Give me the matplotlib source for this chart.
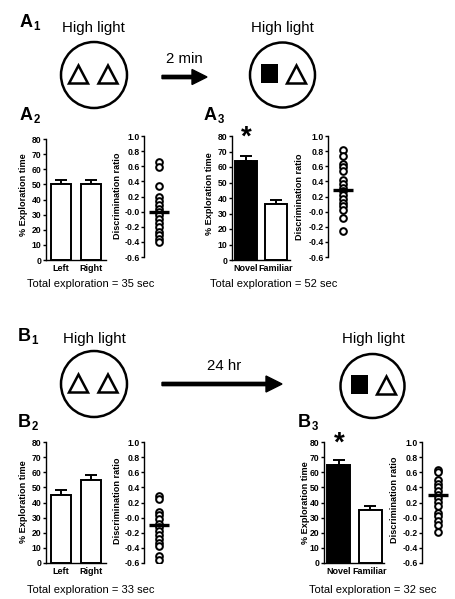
import matplotlib
matplotlib.use("Agg")
import matplotlib.pyplot as plt
from matplotlib import patches
import numpy as np

plt.rcParams['font.family'] = ['Liberation Sans', 'DejaVu Sans']

# ---------------- data ----------------
a2_labels = ['Left', 'Right']
a2_values = [50, 50]
a2_sem = [3, 3]
a2_colors = ['white', 'white']
a2_ratio = [0.65, 0.59, 0.34, 0.19, 0.14, 0.09, 0.04, 0.0, -0.05, -0.10,
            -0.15, -0.20, -0.27, -0.31, -0.36, -0.40]
a2_ratio_mean = 0.0
a2_total = 35

a3_labels = ['Novel', 'Familiar']
a3_values = [64, 36]
a3_sem = [3, 3]
a3_colors = ['black', 'white']
a3_ratio = [0.82, 0.73, 0.63, 0.59, 0.54, 0.42, 0.36, 0.31, 0.27, 0.22,
            0.17, 0.12, 0.07, 0.02, -0.09, -0.25]
a3_ratio_mean = 0.29
a3_total = 52

b2_labels = ['Left', 'Right']
b2_values = [45, 55]
b2_sem = [3, 3]
b2_colors = ['white', 'white']
b2_ratio = [0.28, 0.25, 0.08, 0.03, -0.02, -0.08, -0.13, -0.18, -0.23,
            -0.28, -0.33, -0.38, -0.51, -0.56]
b2_ratio_mean = -0.10
b2_total = 33

b3_labels = ['Novel', 'Familiar']
b3_values = [65, 35]
b3_sem = [3, 3]
b3_colors = ['black', 'white']
b3_ratio = [0.63, 0.60, 0.50, 0.45, 0.40, 0.35, 0.30, 0.26, 0.21, 0.16,
            0.06, 0.02, -0.04, -0.10, -0.19]
b3_ratio_mean = 0.30
b3_total = 32

pct_ticks = [0, 10, 20, 30, 40, 50, 60, 70, 80]
ratio_ticks = [1.0, 0.8, 0.6, 0.4, 0.2, 0.0, -0.2, -0.4, -0.6]
ratio_ticklabels = ['1.0', '0.8', '0.6', '0.4', '0.2', '-0.0', '-0.2', '-0.4', '-0.6']

# ---------------- figure ----------------
W, H = 456, 599
fig = plt.figure(figsize=(W / 100, H / 100), dpi=100)

bg = fig.add_axes([0, 0, 1, 1], zorder=-5)
bg.set_xlim(0, W)
bg.set_ylim(H, 0)
bg.axis('off')


def add_ax(x0, ytop, x1, ybot):
    return fig.add_axes([x0 / W, 1 - ybot / H, (x1 - x0) / W, (ybot - ytop) / H])


def style_common(ax):
    ax.patch.set_visible(False)
    ax.spines['top'].set_visible(False)
    ax.spines['right'].set_visible(False)
    for s in ('left', 'bottom'):
        ax.spines[s].set_linewidth(1.0)
    ax.tick_params(axis='y', direction='out', length=2.3, width=1.0, pad=0.8,
                   labelsize=6.2)
    for t in ax.get_yticklabels():
        t.set_fontweight('bold')


def ylabel_at(ax, text, xr, yc):
    ax.set_ylabel(text, fontsize=6.6, fontweight='bold')
    ax.yaxis.set_label_coords(xr / W, 1 - yc / H, transform=fig.transFigure)


def bar_panel(rect, labels, values, sem, colors, xlim, width, ylab_pos, star=None):
    ax = add_ax(*rect)
    x = np.arange(len(values))
    ax.bar(x, values, width=width, color=colors, edgecolor='black',
           linewidth=1.4, zorder=2)
    ax.errorbar(x, values, yerr=[np.zeros(len(sem)), sem], fmt='none',
                ecolor='black', elinewidth=1.4, capsize=4.2, capthick=1.4,
                zorder=1)
    ax.set_xlim(*xlim)
    ax.set_ylim(0, 80)
    ax.set_yticks(pct_ticks)
    ax.set_xticks(x)
    ax.set_xticklabels(labels, fontsize=6.5, fontweight='bold')
    ax.tick_params(axis='x', length=0, pad=3.2)
    style_common(ax)
    ylabel_at(ax, '% Exploration time', *ylab_pos)
    if star is not None:
        ax.text(0, star, '*', ha='center', va='center', fontsize=20,
                fontweight='bold')
    return ax


def dot_panel(rect, ratio, mean, ylab_pos, xdot=0.5):
    ax = add_ax(*rect)
    ax.plot(np.full(len(ratio), xdot), ratio, linestyle='none', marker='o',
            markersize=4.8, markerfacecolor='white', markeredgecolor='black',
            markeredgewidth=1.45, zorder=2)
    ax.hlines(mean, xdot - 0.33, xdot + 0.33, colors='black', linewidth=2.4,
              zorder=3)
    ax.set_xlim(0, 1)
    ax.set_ylim(-0.6, 1.0)
    ax.set_yticks(ratio_ticks)
    ax.set_yticklabels(ratio_ticklabels)
    ax.set_xticks([])
    ax.spines['bottom'].set_visible(False)
    style_common(ax)
    ylabel_at(ax, 'Discrimination ratio', *ylab_pos)
    return ax


# ---- A row ----
bar_panel((46, 139, 106, 260), a2_labels, a2_values, a2_sem, a2_colors,
          (-0.5, 1.5), 0.66, (28.5, 195))
dot_panel((144, 136, 174, 257), a2_ratio, a2_ratio_mean, (121.5, 196))
bar_panel((232, 136, 290, 260), a3_labels, a3_values, a3_sem, a3_colors,
          (-0.47, 1.47), 0.72, (214, 194), star=79)
dot_panel((328, 136, 358, 257), a3_ratio, a3_ratio_mean, (304.5, 197))

# ---- B row ----
bar_panel((46, 442, 106, 563), b2_labels, b2_values, b2_sem, b2_colors,
          (-0.5, 1.5), 0.66, (28.5, 502))
dot_panel((144, 442, 174, 563), b2_ratio, b2_ratio_mean, (121.5, 501))
bar_panel((324, 442, 384, 563), b3_labels, b3_values, b3_sem, b3_colors,
          (-0.48, 1.45), 0.74, (310, 503), star=79)
dot_panel((422, 442, 452, 563), b3_ratio, b3_ratio_mean, (399.5, 500),
          xdot=0.53)

# ---- totals ----
for (xc, yb, tot) in [(91, 287, a2_total), (274, 287, a3_total),
                      (91, 593, b2_total), (373, 593, b3_total)]:
    bg.text(xc, yb, f'Total exploration = {tot} sec', ha='center',
            va='baseline', fontsize=8)

# ---- panel letters ----
for (x, y, letter, sub) in [(20, 27, 'A', '1'), (20, 120, 'A', '2'),
                            (204, 120, 'A', '3'), (18, 341, 'B', '1'),
                            (18, 427, 'B', '2'), (298, 427, 'B', '3')]:
    bg.text(x, y, letter, ha='left', va='baseline', fontsize=13,
            fontweight='bold')
    bg.text(x + 13.5, y + 3, sub, ha='left', va='baseline', fontsize=8.3,
            fontweight='bold')

# ---- schematic arenas ----
for (xc, yb) in [(93.3, 32), (282.5, 32), (94.5, 343), (373, 343)]:
    bg.text(xc, yb, 'High light', ha='center', va='baseline', fontsize=10.8)
bg.text(184, 62.7, '2 min', ha='center', va='baseline', fontsize=10.8)
bg.text(224, 370, '24 hr', ha='center', va='baseline', fontsize=10.8)


def triangle(x0, cy):
    tw, th = 19, 18
    bg.add_patch(patches.Polygon([(x0, cy + 8.5), (x0 + tw / 2, cy + 8.5 - th),
                                  (x0 + tw, cy + 8.5)], closed=True,
                                 fill=False, linewidth=1.8,
                                 edgecolor='black', joinstyle='miter'))


def arena(cx, cy, r, left_obj):
    bg.add_patch(patches.Circle((cx, cy), r, fill=False, linewidth=1.8,
                                edgecolor='black'))
    if left_obj == 'triangle':
        triangle(cx - 25, cy)
    else:
        bg.add_patch(patches.Rectangle((cx - 21.5, cy - 11), 17, 19,
                                       facecolor='black', edgecolor='none'))
    triangle(cx + 4.5, cy)


arena(94, 75, 33, 'triangle')
arena(282.5, 75, 32.5, 'square')
arena(94, 384, 33, 'triangle')
arena(372.5, 386, 32, 'square')

bg.add_patch(patches.FancyArrow(162, 77, 45, 0, width=3.3, head_width=15,
                                head_length=15, length_includes_head=True,
                                color='black'))
bg.add_patch(patches.FancyArrow(162, 384, 120, 0, width=3.3, head_width=16,
                                head_length=16, length_includes_head=True,
                                color='black'))

fig.savefig('out.png', dpi=100)
